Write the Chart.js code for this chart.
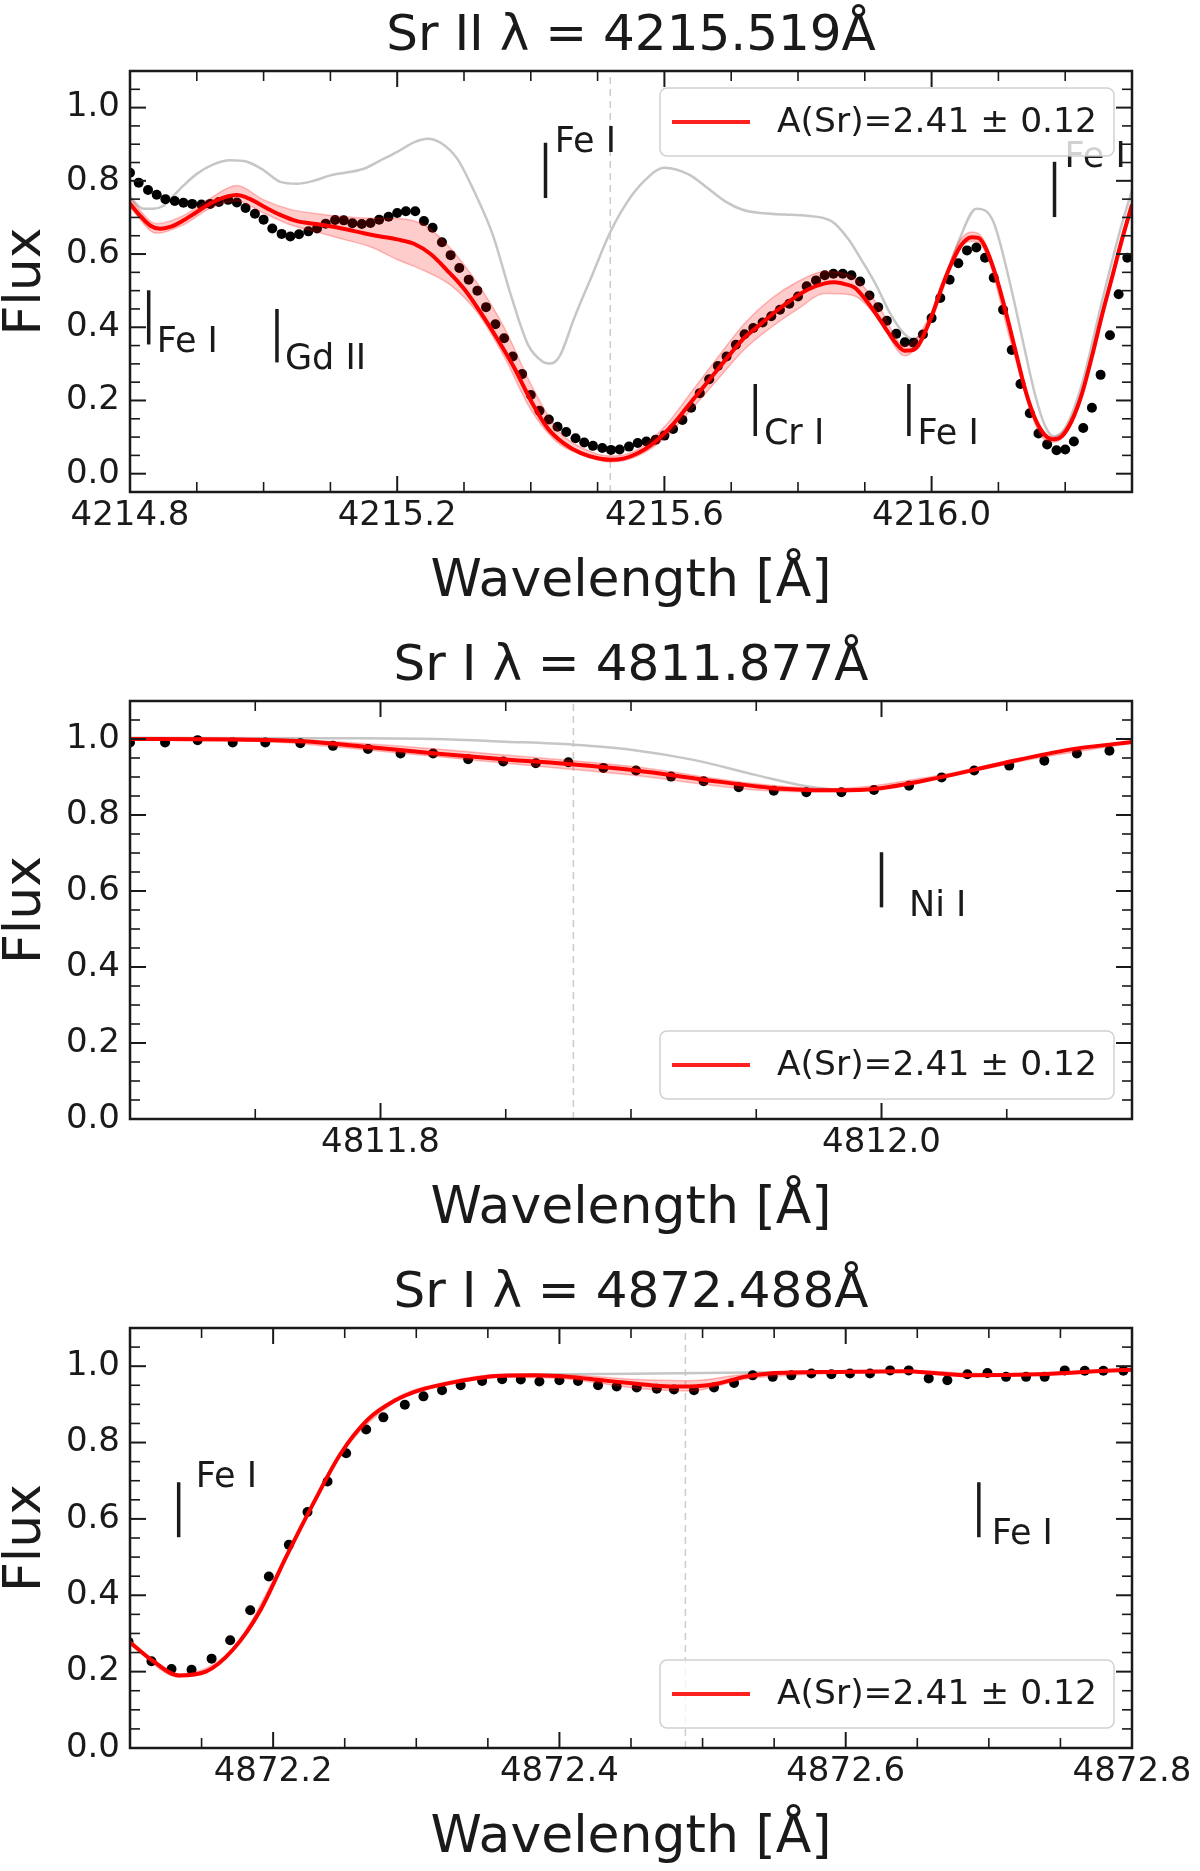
<!DOCTYPE html>
<html><head><meta charset="utf-8">
<script src="https://cdn.jsdelivr.net/npm/chart.js@4.4.1/dist/chart.umd.min.js"></script>
<style>
html,body{margin:0;padding:0;background:#fff;}
body{width:1200px;height:1871px;position:relative;overflow:hidden;}
canvas{position:absolute;left:0;}
</style></head><body>
<canvas id="c1" style="top:0px"></canvas>
<canvas id="c2" style="top:630px"></canvas>
<canvas id="c3" style="top:1257px"></canvas>
<script>
// ---------------- DATA ----------------
const legendText = 'A(Sr)=2.41 ± 0.12';
const yTicks = [0.0, 0.2, 0.4, 0.6, 0.8, 1.0];

// Panel 1 : Sr II 4215.519
const p1Title = 'Sr II λ = 4215.519Å';
const p1Center = 4215.519;
const p1XTicks = [4214.8, 4215.2, 4215.6, 4216.0];
const p1ObsLam = [4214.800,4214.813,4214.827,4214.840,4214.853,4214.867,4214.880,4214.893,4214.907,4214.920,
4214.933,4214.947,4214.960,4214.973,4214.987,4215.000,4215.013,4215.027,4215.040,4215.053,
4215.067,4215.080,4215.093,4215.107,4215.120,4215.133,4215.147,4215.160,4215.173,4215.187,
4215.200,4215.213,4215.227,4215.240,4215.253,4215.267,4215.280,4215.293,4215.307,4215.320,
4215.333,4215.347,4215.360,4215.373,4215.387,4215.400,4215.413,4215.427,4215.440,4215.453,
4215.467,4215.480,4215.493,4215.507,4215.520,4215.533,4215.547,4215.560,4215.573,4215.587,
4215.600,4215.613,4215.627,4215.640,4215.653,4215.667,4215.680,4215.693,4215.707,4215.720,
4215.733,4215.747,4215.760,4215.773,4215.787,4215.800,4215.813,4215.827,4215.840,4215.853,
4215.867,4215.880,4215.893,4215.907,4215.920,4215.933,4215.947,4215.960,4215.973,4215.987,
4216.000,4216.013,4216.027,4216.040,4216.053,4216.067,4216.080,4216.093,4216.107,4216.120,
4216.133,4216.147,4216.160,4216.173,4216.187,4216.200,4216.213,4216.227,4216.240,4216.253,
4216.267,4216.280,4216.293];
const p1Obs = [0.822,0.795,0.775,0.762,0.750,0.745,0.740,0.737,0.735,0.737,
0.742,0.748,0.741,0.726,0.710,0.694,0.670,0.655,0.648,0.654,
0.662,0.670,0.683,0.693,0.692,0.684,0.682,0.685,0.694,0.702,
0.712,0.717,0.717,0.690,0.672,0.632,0.597,0.562,0.530,0.500,
0.455,0.408,0.370,0.320,0.272,0.215,0.172,0.148,0.128,0.114,
0.097,0.085,0.076,0.070,0.065,0.066,0.074,0.084,0.088,0.093,
0.104,0.122,0.147,0.180,0.220,0.258,0.294,0.320,0.352,0.381,
0.398,0.413,0.430,0.448,0.464,0.484,0.512,0.528,0.542,0.546,
0.546,0.542,0.525,0.487,0.455,0.418,0.382,0.359,0.358,0.380,
0.425,0.480,0.530,0.575,0.610,0.618,0.590,0.535,0.448,0.338,
0.245,0.165,0.110,0.080,0.064,0.066,0.088,0.125,0.180,0.270,
0.378,0.490,0.590];
const p1FitLam = [4214.800,4214.815,4214.830,4214.845,4214.860,4214.880,4214.900,4214.920,4214.940,4214.960,
4214.980,4215.000,4215.025,4215.050,4215.075,4215.100,4215.125,4215.150,4215.175,4215.200,
4215.225,4215.250,4215.275,4215.300,4215.325,4215.350,4215.375,4215.400,4215.425,4215.450,
4215.475,4215.500,4215.520,4215.540,4215.560,4215.580,4215.600,4215.620,4215.640,4215.660,
4215.680,4215.700,4215.720,4215.740,4215.765,4215.790,4215.815,4215.840,4215.855,4215.870,
4215.885,4215.900,4215.915,4215.930,4215.945,4215.960,4215.970,4215.980,4216.000,4216.015,
4216.030,4216.045,4216.060,4216.070,4216.080,4216.095,4216.110,4216.125,4216.140,4216.155,
4216.170,4216.183,4216.195,4216.210,4216.225,4216.240,4216.255,4216.270,4216.285,4216.300];
const p1Fit = [0.738,0.705,0.678,0.669,0.674,0.692,0.715,0.738,0.754,0.761,
0.750,0.730,0.707,0.690,0.683,0.676,0.667,0.657,0.648,0.640,
0.628,0.600,0.555,0.505,0.440,0.368,0.290,0.200,0.125,0.082,
0.056,0.042,0.038,0.042,0.056,0.078,0.110,0.150,0.196,0.240,
0.285,0.330,0.372,0.402,0.441,0.475,0.503,0.520,0.523,0.518,
0.508,0.478,0.441,0.400,0.360,0.336,0.337,0.350,0.430,0.508,
0.575,0.626,0.646,0.644,0.620,0.548,0.450,0.340,0.230,0.150,
0.105,0.094,0.102,0.145,0.218,0.320,0.432,0.535,0.640,0.735];
const p1BandLam = [4214.800,4214.840,4214.880,4214.920,4214.960,4215.000,4215.040,4215.080,4215.120,4215.160,
4215.200,4215.240,4215.280,4215.320,4215.360,4215.400,4215.440,4215.480,4215.520,4215.560,
4215.600,4215.640,4215.680,4215.720,4215.760,4215.800,4215.840,4215.880,4215.920,4215.960,
4216.000,4216.040,4216.060,4216.080,4216.120,4216.160,4216.183,4216.220,4216.260,4216.300];
const p1Upper = [0.752,0.683,0.705,0.752,0.787,0.748,0.722,0.710,0.702,0.698,
0.697,0.680,0.615,0.520,0.400,0.245,0.120,0.068,0.048,0.066,
0.128,0.222,0.318,0.410,0.478,0.525,0.552,0.540,0.460,0.348,
0.440,0.630,0.660,0.632,0.376,0.135,0.100,0.200,0.480,0.745];
const p1Lower = [0.728,0.657,0.680,0.725,0.745,0.712,0.680,0.660,0.640,0.620,
0.585,0.555,0.515,0.440,0.320,0.175,0.085,0.050,0.032,0.048,
0.096,0.175,0.258,0.340,0.400,0.450,0.492,0.488,0.425,0.322,
0.420,0.610,0.635,0.610,0.350,0.115,0.086,0.180,0.460,0.725];
const p1GreyLam = [4214.800,4214.820,4214.835,4214.850,4214.875,4214.900,4214.925,4214.950,4214.975,4215.000,
4215.025,4215.050,4215.075,4215.100,4215.150,4215.175,4215.200,4215.225,4215.245,4215.265,
4215.290,4215.315,4215.343,4215.370,4215.396,4215.418,4215.430,4215.444,4215.465,4215.492,
4215.519,4215.545,4215.570,4215.600,4215.637,4215.664,4215.691,4215.717,4215.744,4215.780,
4215.810,4215.850,4215.875,4215.897,4215.917,4215.937,4215.957,4215.972,4215.992,4216.017,
4216.042,4216.067,4216.092,4216.117,4216.137,4216.155,4216.170,4216.183,4216.200,4216.225,
4216.255,4216.280,4216.300];
const p1Grey = [0.756,0.724,0.724,0.732,0.778,0.819,0.845,0.856,0.852,0.829,
0.797,0.792,0.800,0.815,0.833,0.856,0.879,0.905,0.915,0.904,
0.860,0.772,0.653,0.489,0.352,0.306,0.301,0.324,0.425,0.543,
0.660,0.744,0.800,0.836,0.817,0.781,0.744,0.721,0.712,0.708,
0.705,0.690,0.642,0.578,0.515,0.441,0.386,0.368,0.395,0.515,
0.642,0.724,0.690,0.523,0.359,0.215,0.130,0.102,0.125,0.245,
0.470,0.650,0.775];
const p1LineLam   = [4214.828, 4215.020, 4215.422, 4215.736, 4215.966, 4216.184];
const p1LineLo    = [0.353, 0.304, 0.753, 0.103, 0.103, 0.701];
const p1LineHi    = [0.501, 0.450, 0.904, 0.245, 0.245, 0.852];
const p1LineLabel = ['Fe I', 'Gd II', 'Fe I', 'Cr I', 'Fe I', 'Fe I'];
const p1LabelLam  = [4214.840, 4215.032, 4215.436, 4215.749, 4215.979, 4216.199];
const p1LabelY    = [0.332, 0.286, 0.880, 0.080, 0.080, 0.838];

// Panel 2 : Sr I 4811.877
const p2Title = 'Sr I λ = 4811.877Å';
const p2Center = 4811.877;
const p2XTicks = [4811.8, 4812.0];
const p2ObsLam = [4811.700,4811.714,4811.727,4811.741,4811.754,4811.768,4811.781,4811.795,4811.808,4811.821,
4811.835,4811.849,4811.862,4811.875,4811.889,4811.902,4811.916,4811.929,4811.943,4811.957,
4811.970,4811.984,4811.997,4812.011,4812.024,4812.037,4812.051,4812.065,4812.078,4812.091];
const p2Obs = [0.991,0.991,0.997,0.991,0.991,0.989,0.982,0.974,0.962,0.962,
0.947,0.941,0.936,0.939,0.924,0.917,0.901,0.889,0.873,0.864,
0.860,0.860,0.866,0.877,0.899,0.917,0.930,0.943,0.962,0.969];
const p2FitLam = [4811.700,4811.742,4811.769,4811.795,4811.822,4811.849,4811.875,4811.902,4811.929,4811.955,
4811.971,4811.982,4811.998,4812.022,4812.049,4812.075,4812.100];
const p2Fit = [1.000,0.999,0.994,0.979,0.962,0.947,0.934,0.917,0.893,0.872,
0.866,0.865,0.869,0.897,0.937,0.972,0.992];
const p2BandLam = [4811.700,4811.750,4811.800,4811.850,4811.900,4811.950,4811.980,4812.020,4812.060,4812.100];
const p2Upper = [1.003,1.002,0.985,0.958,0.928,0.882,0.869,0.901,0.955,0.995];
const p2Lower = [0.997,0.994,0.968,0.936,0.905,0.866,0.861,0.893,0.947,0.989];
const p2GreyLam = [4811.700,4811.780,4811.822,4811.850,4811.877,4811.900,4811.925,4811.950,4811.970,4811.985,
4811.998,4812.022,4812.049,4812.075,4812.100];
const p2Grey = [1.003,1.002,1.000,0.993,0.985,0.972,0.945,0.905,0.876,0.867,
0.869,0.897,0.937,0.972,0.992];
const p2LineLam = [4812.000];
const p2LineLo = [0.557];
const p2LineHi = [0.702];
const p2LineLabel = ['Ni I'];
const p2LabelLam = [4812.011];
const p2LabelY = [0.535];

// Panel 3 : Sr I 4872.488
const p3Title = 'Sr I λ = 4872.488Å';
const p3Center = 4872.488;
const p3XTicks = [4872.2, 4872.4, 4872.6, 4872.8];
const p3ObsLam = [4872.099,4872.115,4872.129,4872.143,4872.157,4872.170,4872.184,4872.197,4872.211,4872.224,
4872.238,4872.251,4872.265,4872.277,4872.292,4872.305,4872.318,4872.331,4872.346,4872.360,
4872.373,4872.386,4872.400,4872.413,4872.427,4872.440,4872.454,4872.468,4872.480,4872.494,
4872.508,4872.522,4872.535,4872.549,4872.562,4872.576,4872.590,4872.603,4872.617,4872.631,
4872.644,4872.658,4872.671,4872.685,4872.699,4872.712,4872.726,4872.739,4872.753,4872.767,
4872.780,4872.794];
const p3Obs = [0.278,0.227,0.207,0.205,0.234,0.282,0.361,0.449,0.532,0.618,
0.698,0.772,0.834,0.866,0.899,0.921,0.937,0.950,0.961,0.966,
0.965,0.960,0.963,0.961,0.950,0.947,0.944,0.941,0.939,0.937,
0.944,0.956,0.976,0.972,0.976,0.981,0.979,0.981,0.981,0.989,
0.989,0.968,0.963,0.979,0.982,0.972,0.972,0.972,0.989,0.988,
0.988,0.988];
const p3FitLam = [4872.099,4872.116,4872.134,4872.153,4872.172,4872.191,4872.209,4872.228,4872.247,4872.266,
4872.285,4872.303,4872.322,4872.341,4872.360,4872.383,4872.407,4872.430,4872.454,4872.477,
4872.491,4872.510,4872.529,4872.547,4872.594,4872.641,4872.665,4872.688,4872.735,4872.782,4872.801];
const p3Fit = [0.280,0.228,0.190,0.200,0.258,0.360,0.500,0.640,0.770,0.860,
0.910,0.938,0.955,0.968,0.975,0.976,0.972,0.963,0.954,0.947,
0.947,0.954,0.972,0.981,0.985,0.987,0.981,0.976,0.979,0.988,0.991];
const p3BandLam = [4872.099,4872.134,4872.172,4872.209,4872.247,4872.285,4872.322,4872.360,4872.407,4872.454,
4872.491,4872.529,4872.570,4872.641,4872.700,4872.801];
const p3Upper = [0.284,0.194,0.262,0.504,0.774,0.914,0.959,0.979,0.977,0.965,0.962,0.978,0.985,0.989,0.980,0.993];
const p3Lower = [0.276,0.186,0.254,0.496,0.766,0.906,0.951,0.971,0.966,0.942,0.935,0.966,0.978,0.985,0.974,0.989];
const p3GreyLam = [4872.099,4872.116,4872.134,4872.153,4872.172,4872.191,4872.209,4872.228,4872.247,4872.266,
4872.285,4872.303,4872.322,4872.341,4872.360,4872.400,4872.450,4872.500,4872.550,4872.594,
4872.641,4872.665,4872.688,4872.735,4872.782,4872.801];
const p3Grey = [0.280,0.228,0.190,0.200,0.258,0.360,0.500,0.640,0.770,0.860,
0.910,0.938,0.955,0.968,0.976,0.979,0.980,0.982,0.984,0.985,
0.987,0.981,0.976,0.979,0.988,0.991];
const p3LineLam = [4872.134, 4872.693];
const p3LineLo = [0.552, 0.552];
const p3LineHi = [0.696, 0.696];
const p3LineLabel = ['Fe I', 'Fe I'];
const p3LabelLam = [4872.146, 4872.702];
const p3LabelY = [0.683, 0.534];

// ---------------- RENDER ----------------
const FONT = "'DejaVu Sans', 'Liberation Sans', sans-serif";
const INK = '#1a1a1a';
function pts(xs, ys) { return xs.map((x, i) => ({ x: x, y: ys[i] })); }
function steps(a, b, s) { const out = []; const n = Math.round((b - a) / s); for (let i = 0; i <= n; i++) out.push(+(a + i * s).toFixed(4)); return out; }

const decor = {
  id: 'decor',
  afterDatasetsDraw(chart, args, o) {
    const ctx = chart.ctx, xs = chart.scales.x, ys = chart.scales.y;
    ctx.save();
    ctx.strokeStyle = INK; ctx.lineWidth = 3.5; ctx.fillStyle = INK;
    ctx.font = '35px ' + FONT; ctx.textAlign = 'left'; ctx.textBaseline = 'alphabetic';
    o.lam.forEach((l, i) => {
      const x = xs.getPixelForValue(l);
      ctx.beginPath();
      ctx.moveTo(x, ys.getPixelForValue(o.lo[i]));
      ctx.lineTo(x, ys.getPixelForValue(o.hi[i]));
      ctx.stroke();
      ctx.fillText(o.label[i], xs.getPixelForValue(o.tLam[i]), ys.getPixelForValue(o.tY[i]));
    });
    ctx.restore();
  },
  afterDraw(chart, args, o) {
    const ctx = chart.ctx, a = chart.chartArea, xs = chart.scales.x, ys = chart.scales.y;
    ctx.save();
    ctx.strokeStyle = INK;
    const seg = (x1, y1, x2, y2, w) => { ctx.lineWidth = w; ctx.beginPath(); ctx.moveTo(x1, y1); ctx.lineTo(x2, y2); ctx.stroke(); };
    const isMajor = (v, arr) => arr.some(t => Math.abs(t - v) < 1e-6);
    steps(o.xMinA, o.xMinB, o.xMinS).forEach(v => {
      const x = xs.getPixelForValue(v);
      if (x <= a.left + 1 || x >= a.right - 1) return;
      const M = isMajor(v, o.xMajor);
      const L = M ? 16 : 10, w = M ? 2 : 1.6;
      seg(x, a.bottom, x, a.bottom - L, w); seg(x, a.top, x, a.top + L, w);
    });
    steps(o.yMinA, 1.1, 0.05).forEach(v => {
      const y = ys.getPixelForValue(v);
      if (y <= a.top + 1 || y >= a.bottom - 1) return;
      const M = isMajor(v, yTicks);
      const L = M ? 16 : 10, w = M ? 2 : 1.6;
      seg(a.left, y, a.left + L, y, w); seg(a.right, y, a.right - L, y, w);
    });
    ctx.lineWidth = 2.5;
    ctx.strokeRect(a.left, a.top, a.right - a.left, a.bottom - a.top);
    // legend
    const bw = 454, bh = 68;
    const bx = a.right - 18 - bw;
    const by = o.legendTop ? a.top + 17 : a.bottom - 20 - bh;
    ctx.beginPath();
    if (ctx.roundRect) ctx.roundRect(bx, by, bw, bh, 7); else ctx.rect(bx, by, bw, bh);
    ctx.fillStyle = 'rgba(255,255,255,0.8)'; ctx.fill();
    ctx.strokeStyle = 'rgba(204,204,204,0.9)'; ctx.lineWidth = 1.5; ctx.stroke();
    const cy = by + bh / 2;
    ctx.strokeStyle = '#ff2020'; ctx.lineWidth = 4;
    ctx.beginPath(); ctx.moveTo(bx + 12, cy); ctx.lineTo(bx + 90, cy); ctx.stroke();
    ctx.fillStyle = INK; ctx.font = '34.5px ' + FONT; ctx.textAlign = 'left'; ctx.textBaseline = 'middle';
    ctx.fillText(legendText, bx + 117, cy + 1);
    ctx.restore();
  }
};

function makeChart(id, c) {
  const cv = document.getElementById(id);
  cv.width = 1200; cv.height = c.h;
  return new Chart(cv, {
    type: 'scatter',
    data: { datasets: [
      { data: pts(c.fitLam, c.fit), showLine: true, borderColor: '#ff0000', borderWidth: 4, pointRadius: 0, cubicInterpolationMode: 'monotone' },
      { data: pts(c.bandLam, c.upper), showLine: true, borderColor: 'rgba(255,0,0,0.25)', borderWidth: 1.5, pointRadius: 0, cubicInterpolationMode: 'monotone' },
      { data: pts(c.bandLam, c.lower), showLine: true, borderColor: 'rgba(255,0,0,0.25)', borderWidth: 1.5, pointRadius: 0, cubicInterpolationMode: 'monotone', fill: '-1', backgroundColor: 'rgba(255,0,0,0.2)' },
      { data: pts(c.obsLam, c.obs), showLine: false, pointRadius: 5, pointBackgroundColor: '#000', pointBorderWidth: 0, pointBorderColor: '#000' },
      { data: pts(c.greyLam, c.grey), showLine: true, borderColor: '#c6c6c6', borderWidth: 2.5, pointRadius: 0, cubicInterpolationMode: 'monotone' },
      { data: [{ x: c.center, y: c.ymin }, { x: c.center, y: 1.1 }], showLine: true, borderColor: '#cccccc', borderWidth: 1.5, borderDash: [7, 5], pointRadius: 0 }
    ] },
    options: {
      responsive: false, animation: false, devicePixelRatio: 1,
      events: [],
      layout: { padding: { left: 0, right: 68, top: 0, bottom: 0 } },
      plugins: {
        legend: { display: false }, tooltip: { enabled: false },
        title: { display: true, fullSize: false, text: c.title, color: INK, font: { family: FONT, size: 50, weight: 'normal', lineHeight: 1.0 }, padding: { top: 12, bottom: 9 } },
        decor: { lam: c.lineLam, lo: c.lineLo, hi: c.lineHi, label: c.lineLabel, tLam: c.labelLam, tY: c.labelY,
                 xMajor: c.xTicks, xMinA: c.xmin, xMinB: c.xmax, xMinS: c.xMinorStep, yMinA: c.ymin, legendTop: c.legendTop }
      },
      scales: {
        x: { type: 'linear', min: c.xmin, max: c.xmax,
             grid: { display: false, drawTicks: false }, border: { display: false },
             afterBuildTicks: (s) => { s.ticks = c.xTicks.map(v => ({ value: v })); },
             afterFit: (s) => { s.height = 118; },
             ticks: { font: { family: FONT, size: 34 }, color: INK, padding: 4, maxRotation: 0, autoSkip: false, callback: (v) => Number(v).toFixed(1) },
             title: { display: true, text: 'Wavelength [Å]', color: INK, font: { family: FONT, size: 52, lineHeight: 1.0 }, padding: { top: 0, bottom: 2 } } },
        y: { type: 'linear', min: c.ymin, max: 1.1,
             grid: { display: false, drawTicks: false }, border: { display: false },
             afterBuildTicks: (s) => { s.ticks = yTicks.map(v => ({ value: v })); },
             afterFit: (s) => { s.width = 130; },
             ticks: { font: { family: FONT, size: 34 }, color: INK, padding: 10, autoSkip: false, callback: (v) => Number(v).toFixed(1) },
             title: { display: true, text: 'Flux', color: INK, font: { family: FONT, size: 52, lineHeight: 1.0 }, padding: { top: 0, bottom: 0 } } }
      }
    },
    plugins: [decor]
  });
}

makeChart('c1', { h: 610, title: p1Title, center: p1Center, xmin: 4214.8, xmax: 4216.3, ymin: -0.05, xTicks: p1XTicks, xMinorStep: 0.1, legendTop: true,
  obsLam: p1ObsLam, obs: p1Obs, fitLam: p1FitLam, fit: p1Fit, bandLam: p1BandLam, upper: p1Upper, lower: p1Lower, greyLam: p1GreyLam, grey: p1Grey,
  lineLam: p1LineLam, lineLo: p1LineLo, lineHi: p1LineHi, lineLabel: p1LineLabel, labelLam: p1LabelLam, labelY: p1LabelY });
makeChart('c2', { h: 607, title: p2Title, center: p2Center, xmin: 4811.7, xmax: 4812.1, ymin: 0.0, xTicks: p2XTicks, xMinorStep: 0.05, legendTop: false,
  obsLam: p2ObsLam, obs: p2Obs, fitLam: p2FitLam, fit: p2Fit, bandLam: p2BandLam, upper: p2Upper, lower: p2Lower, greyLam: p2GreyLam, grey: p2Grey,
  lineLam: p2LineLam, lineLo: p2LineLo, lineHi: p2LineHi, lineLabel: p2LineLabel, labelLam: p2LabelLam, labelY: p2LabelY });
makeChart('c3', { h: 609, title: p3Title, center: p3Center, xmin: 4872.1, xmax: 4872.8, ymin: 0.0, xTicks: p3XTicks, xMinorStep: 0.05, legendTop: false,
  obsLam: p3ObsLam, obs: p3Obs, fitLam: p3FitLam, fit: p3Fit, bandLam: p3BandLam, upper: p3Upper, lower: p3Lower, greyLam: p3GreyLam, grey: p3Grey,
  lineLam: p3LineLam, lineLo: p3LineLo, lineHi: p3LineHi, lineLabel: p3LineLabel, labelLam: p3LabelLam, labelY: p3LabelY });
</script>
</body></html>
